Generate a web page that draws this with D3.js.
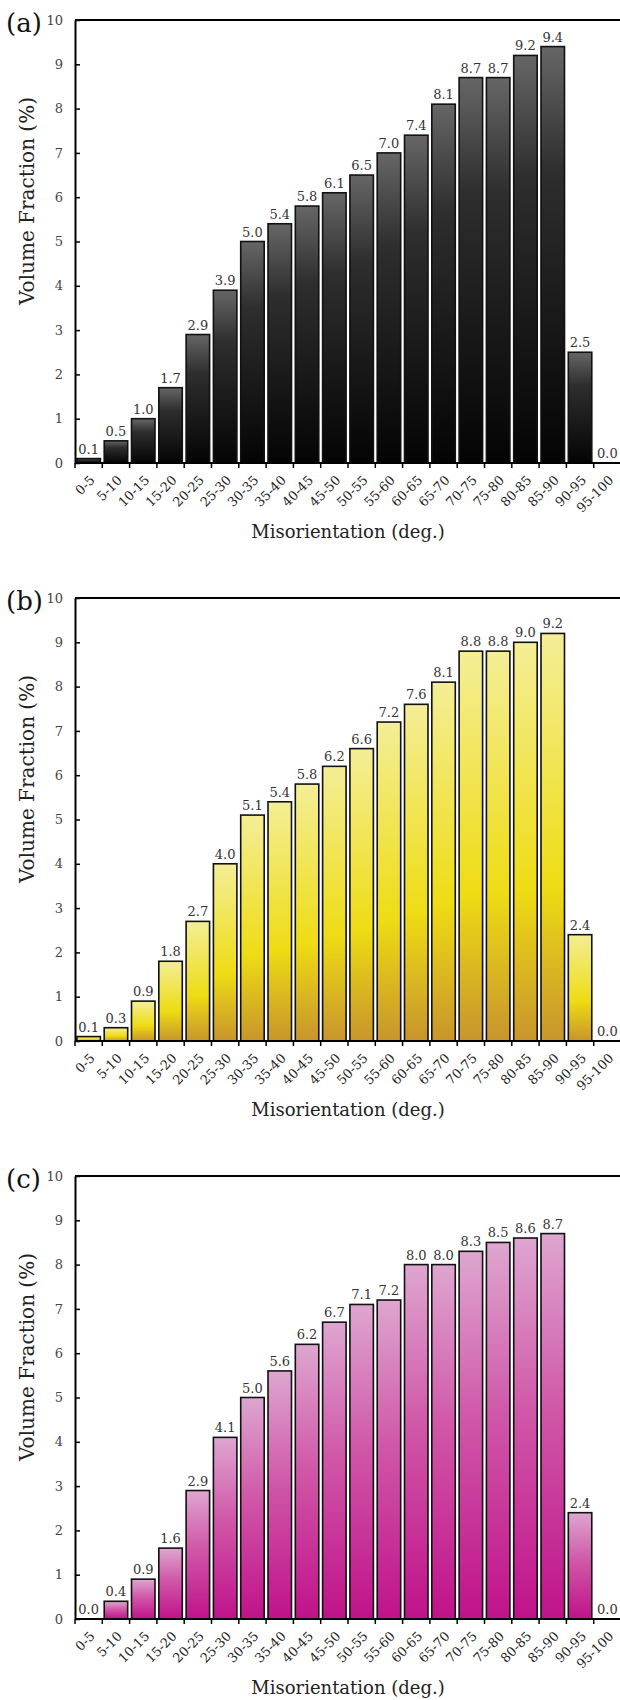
<!DOCTYPE html>
<html>
<head>
<meta charset="utf-8">
<script src="https://cdn.jsdelivr.net/npm/d3@7"></script>
<style>
  body { margin: 0; background: #fff; }
  svg text { font-family: "DejaVu Serif", "Liberation Serif", serif; }
</style>
</head>
<body>
<div id="chart"></div>
<script>
// categories and series
const categories = ["0-5", "5-10", "10-15", "15-20", "20-25", "25-30", "30-35", "35-40", "40-45", "45-50",
  "50-55", "55-60", "60-65", "65-70", "70-75", "75-80", "80-85", "85-90", "90-95", "95-100"];
const valuesA = [0.1, 0.5, 1.0, 1.7, 2.9, 3.9, 5.0, 5.4, 5.8, 6.1, 6.5, 7.0, 7.4, 8.1, 8.7, 8.7, 9.2, 9.4, 2.5, 0.0];
const valuesB = [0.1, 0.3, 0.9, 1.8, 2.7, 4.0, 5.1, 5.4, 5.8, 6.2, 6.6, 7.2, 7.6, 8.1, 8.8, 8.8, 9.0, 9.2, 2.4, 0.0];
const valuesC = [0.0, 0.4, 0.9, 1.6, 2.9, 4.1, 5.0, 5.6, 6.2, 6.7, 7.1, 7.2, 8.0, 8.0, 8.3, 8.5, 8.6, 8.7, 2.4, 0.0];
const yTicks = [0, 1, 2, 3, 4, 5, 6, 7, 8, 9, 10];
const panelLabels = ["(a)", "(b)", "(c)"];

// gradient stops per panel (top -> bottom of each bar)
const gradients = [
  [["0%", "#666"], ["30%", "#2e2e2e"], ["100%", "#040404"]],
  [["0%", "#f4ee96"], ["62%", "#eedc14"], ["100%", "#c8952c"]],
  [["0%", "#dea6d0"], ["45%", "#d058a8"], ["100%", "#c0128a"]]
];

const W = 620, H = 1700;
const left = 75, right = 621;
const plotH = 443, panelTop = 20, panelStep = 578;

const svg = d3.select("#chart").append("svg")
  .attr("width", W).attr("height", H);

const defs = svg.append("defs");
gradients.forEach((stops, i) => {
  const g = defs.append("linearGradient")
    .attr("id", "grad" + i)
    .attr("x1", 0).attr("y1", 0).attr("x2", 0).attr("y2", 1);
  stops.forEach(s => g.append("stop").attr("offset", s[0]).attr("stop-color", s[1]));
});

const x = d3.scaleBand().domain(categories).range([left, right])
  .paddingInner(0.14).paddingOuter(0.07);
const y = d3.scaleLinear().domain([0, 10]).range([plotH, 0]);
const step = x.step();

[valuesA, valuesB, valuesC].forEach((vals, i) => {
  const g = svg.append("g").attr("transform", `translate(0,${panelTop + i * panelStep})`);
  const data = categories.map((c, k) => ({ cat: c, v: vals[k] }));

  // frame top
  g.append("line")
    .attr("x1", left).attr("x2", W).attr("y1", 0).attr("y2", 0)
    .attr("stroke", "#000").attr("stroke-width", 2);

  // bars
  g.selectAll(".bar").data(data.filter(d => d.v > 0)).enter().append("rect")
    .attr("class", "bar")
    .attr("x", d => x(d.cat))
    .attr("width", x.bandwidth())
    .attr("y", d => y(d.v))
    .attr("height", d => y(0) - y(d.v))
    .attr("fill", `url(#grad${i})`)
    .attr("stroke", "#111")
    .attr("stroke-width", 1.6);

  // value labels
  g.selectAll(".val").data(data).enter().append("text")
    .attr("class", "val")
    .attr("x", d => x(d.cat) + x.bandwidth() / 2)
    .attr("y", d => y(d.v) - 5)
    .attr("text-anchor", "middle")
    .style("font-size", "13px")
    .style("fill", "#333")
    .text(d => d.v.toFixed(1));

  // y axis
  const yAxis = g.append("g")
    .attr("transform", `translate(${left},0)`)
    .call(d3.axisLeft(y).tickValues(yTicks).tickSize(-5).tickSizeOuter(0).tickPadding(12));
  yAxis.select(".domain").attr("stroke-width", 2);
  yAxis.selectAll(".tick line").attr("stroke-width", 1.5);
  yAxis.selectAll("text").style("font-size", "13px").style("fill", "#444");

  // x axis, ticks on the left edge of each category
  const xAxis = g.append("g")
    .attr("transform", `translate(0,${plotH})`)
    .call(d3.axisBottom(x).tickSize(5).tickSizeOuter(0));
  xAxis.select(".domain").attr("d", `M${left},0H${W}`).attr("stroke-width", 2);
  xAxis.selectAll(".tick line")
    .attr("x1", -step / 2).attr("x2", -step / 2).attr("stroke-width", 1.5);
  xAxis.selectAll(".tick text")
    .attr("text-anchor", "end")
    .attr("x", 0).attr("y", 0).attr("dy", 0)
    .attr("transform", "translate(7,18) rotate(-45)")
    .style("font-size", "13px")
    .style("fill", "#222");

  // axis titles
  g.append("text")
    .attr("x", (left + right) / 2)
    .attr("y", plotH + 75)
    .attr("text-anchor", "middle")
    .style("font-size", "18px")
    .style("fill", "#222")
    .text("Misorientation (deg.)");

  g.append("text")
    .attr("transform", `translate(34,181) rotate(-90)`)
    .attr("text-anchor", "middle")
    .style("font-size", "20px")
    .style("fill", "#222")
    .text("Volume Fraction (%)");

  g.append("text")
    .attr("x", 6).attr("y", 12)
    .style("font-size", "26px")
    .style("fill", "#111")
    .text(panelLabels[i]);
});
</script>
</body>
</html>
